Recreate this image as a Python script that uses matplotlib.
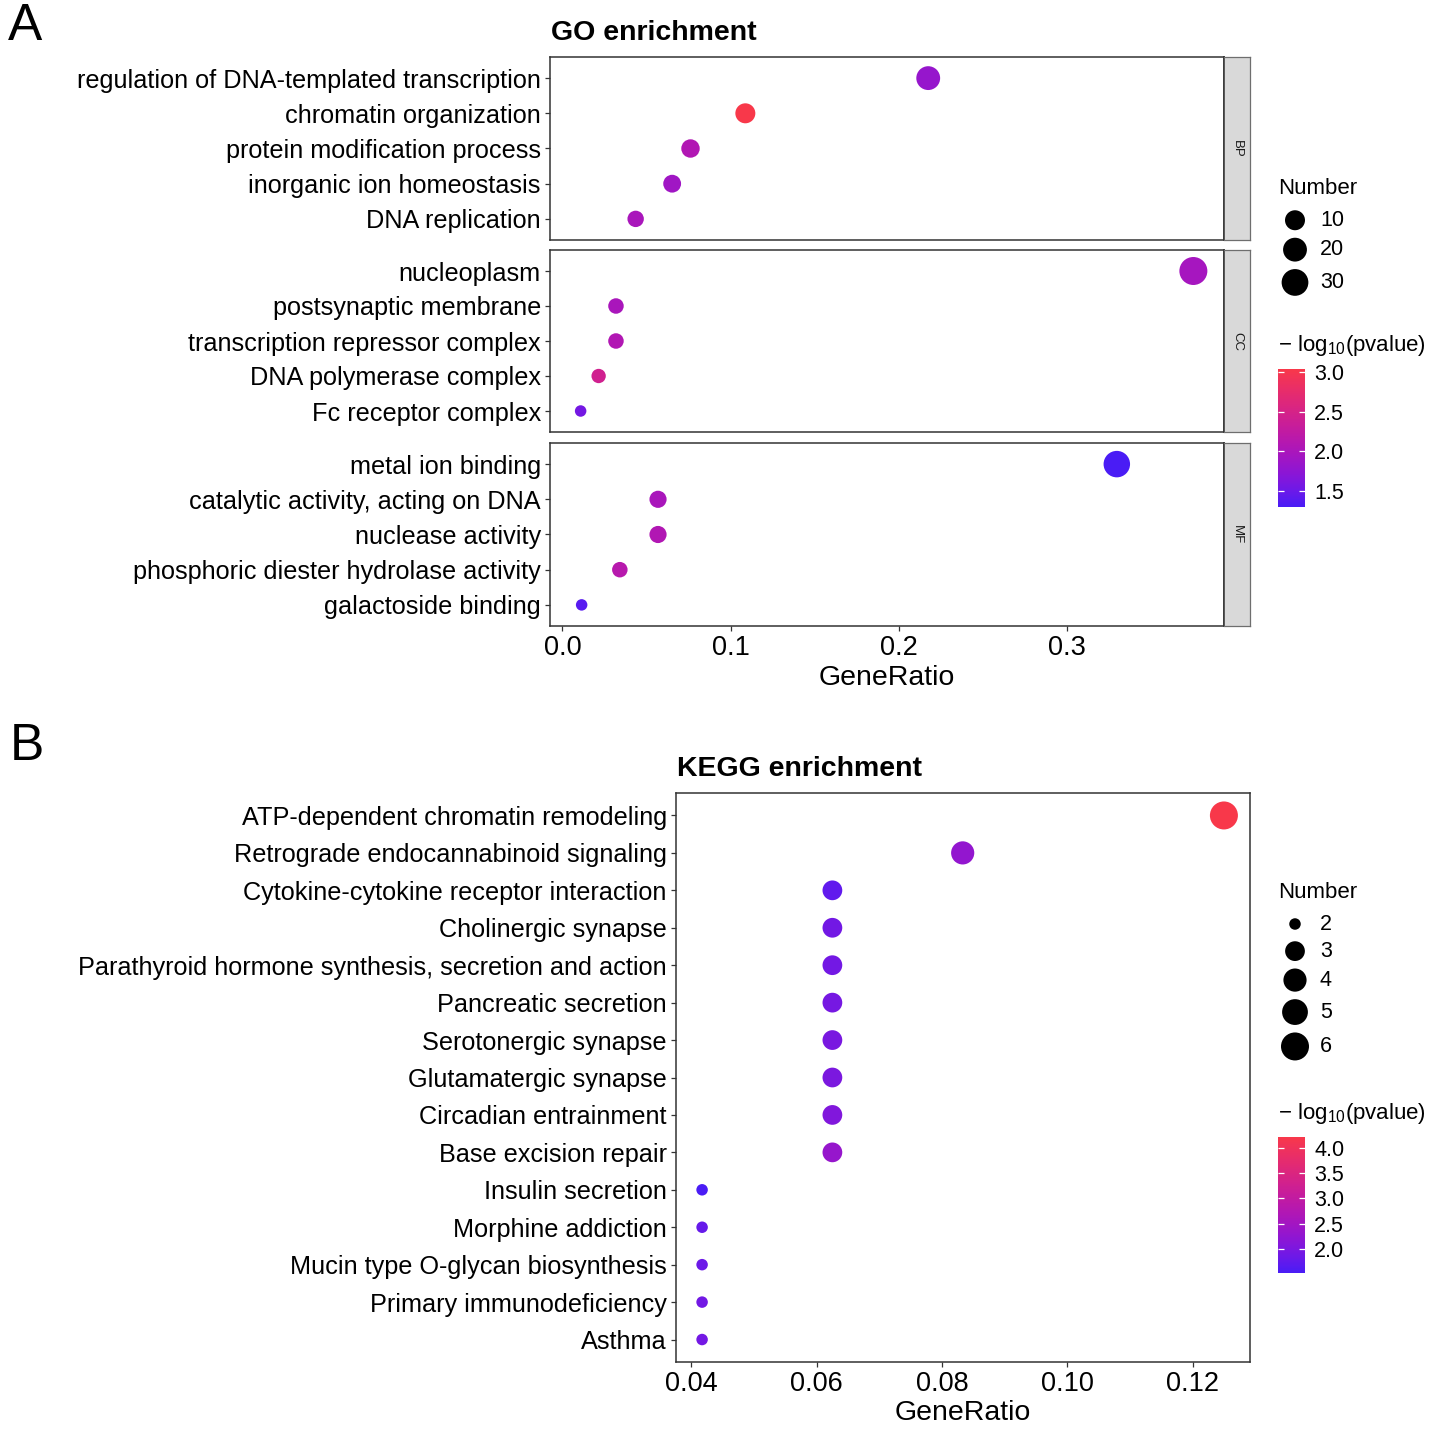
import numpy as np
import matplotlib
matplotlib.use("Agg")
import matplotlib.pyplot as plt
from matplotlib.colors import ListedColormap, Normalize
from matplotlib.cm import ScalarMappable

plt.rcParams["font.family"] = ["Liberation Sans", "DejaVu Sans"]
plt.rcParams["mathtext.default"] = "regular"

# ----------------------------
# Data
# ----------------------------
go_terms = [
    "regulation of DNA-templated transcription", "chromatin organization",
    "protein modification process", "inorganic ion homeostasis", "DNA replication",
    "nucleoplasm", "postsynaptic membrane", "transcription repressor complex",
    "DNA polymerase complex", "Fc receptor complex",
    "metal ion binding", "catalytic activity, acting on DNA", "nuclease activity",
    "phosphoric diester hydrolase activity", "galactoside binding",
]
go_ont = ["BP"] * 5 + ["CC"] * 5 + ["MF"] * 5
go_ratio = [0.2174, 0.1087, 0.0761, 0.0652, 0.0435,
            0.3750, 0.0318, 0.0318, 0.0215, 0.0108,
            0.3295, 0.0568, 0.0568, 0.0341, 0.0114]
go_count = [20, 10, 7, 6, 4,
            35, 3, 3, 2, 1,
            29, 5, 5, 3, 1]
go_logp = [1.82, 3.04, 2.08, 1.91, 2.00,
           1.96, 2.00, 2.08, 2.43, 1.56,
           1.30, 2.00, 2.08, 2.14, 1.39]

kegg_terms = [
    "ATP-dependent chromatin remodeling", "Retrograde endocannabinoid signaling",
    "Cytokine-cytokine receptor interaction", "Cholinergic synapse",
    "Parathyroid hormone synthesis, secretion and action", "Pancreatic secretion",
    "Serotonergic synapse", "Glutamatergic synapse", "Circadian entrainment",
    "Base excision repair", "Insulin secretion", "Morphine addiction",
    "Mucin type O-glycan biosynthesis", "Primary immunodeficiency", "Asthma",
]
kegg_ratio = [0.1250, 0.0833] + [0.0625] * 8 + [0.0417] * 5
kegg_count = [6, 4] + [3] * 8 + [2] * 5
kegg_logp = [4.22, 2.28, 1.74, 1.90, 1.92, 1.95, 1.98, 2.00, 2.06, 2.33,
             1.52, 1.79, 1.84, 1.90, 1.92]

go_size_breaks = [10, 20, 30]
kegg_size_breaks = [2, 3, 4, 5, 6]
go_color_ticks = [1.5, 2.0, 2.5, 3.0]
kegg_color_ticks = [2.0, 2.5, 3.0, 3.5, 4.0]

# ----------------------------
# Helpers
# ----------------------------
W, H = 1430, 1431
LOW, HIGH = "#4A1CF5", "#F8384A"
BORDER = "#333333"

M = np.array([[0.4124564, 0.3575761, 0.1804375],
              [0.2126729, 0.7151522, 0.0721750],
              [0.0193339, 0.1191920, 0.9503041]])
WHITE = np.array([0.95047, 1.0, 1.08883])


def hex_to_rgb(h):
    return np.array([int(h[i:i + 2], 16) for i in (1, 3, 5)]) / 255.0


def rgb_to_lab(rgb):
    lin = np.where(rgb <= 0.04045, rgb / 12.92, ((rgb + 0.055) / 1.055) ** 2.4)
    xyz = (M @ lin) / WHITE
    f = np.where(xyz > 0.008856, np.cbrt(xyz), 7.787 * xyz + 16 / 116)
    return np.array([116 * f[1] - 16, 500 * (f[0] - f[1]), 200 * (f[1] - f[2])])


def lab_to_rgb(lab):
    fy = (lab[:, 0] + 16) / 116
    fx = fy + lab[:, 1] / 500
    fz = fy - lab[:, 2] / 200
    f = np.stack([fx, fy, fz], axis=1)
    xyz = np.where(f ** 3 > 0.008856, f ** 3, (f - 16 / 116) / 7.787) * WHITE
    lin = np.clip(xyz @ np.linalg.inv(M).T, 0, 1)
    rgb = np.where(lin <= 0.0031308, 12.92 * lin, 1.055 * lin ** (1 / 2.4) - 0.055)
    return np.clip(rgb, 0, 1)


def lab_cmap(low, high, n=256, gamma=1.2):
    a, b = rgb_to_lab(hex_to_rgb(low)), rgb_to_lab(hex_to_rgb(high))
    t = (np.linspace(0, 1, n) ** gamma)[:, None]
    return ListedColormap(lab_to_rgb(a + (b - a) * t))


CMAP = lab_cmap(LOW, HIGH)


def box(l, t, r, b):
    return [l / W, 1 - b / H, (r - l) / W, (b - t) / H]


def size_fun(counts, dmin=11.5, dmax=28.0):
    lo, hi = min(counts), max(counts)

    def f(n):
        n = np.asarray(n, dtype=float)
        return dmin + (dmax - dmin) * np.sqrt((n - lo) / (hi - lo))
    return f


def s_pts(d_px):
    return (np.asarray(d_px) * 0.72) ** 2


def expand(vals, frac=0.05):
    lo, hi = min(vals), max(vals)
    pad = frac * (hi - lo)
    return lo - pad, hi + pad


def style_axes(ax):
    for sp in ax.spines.values():
        sp.set_color(BORDER)
        sp.set_linewidth(1.1)
    ax.tick_params(axis="both", length=3.6, width=0.9, color=BORDER, pad=3)
    ax.tick_params(axis="y", labelsize=18.2)
    ax.tick_params(axis="x", labelsize=19.5)


fig = plt.figure(figsize=(W / 100, H / 100), dpi=100)
over = fig.add_axes([0, 0, 1, 1], zorder=5)
over.set_xlim(0, W)
over.set_ylim(H, 0)
over.axis("off")


def size_legend(x0, y_title, breaks, dfun):
    over.text(x0, y_title, "Number", fontsize=16, va="center", ha="left")
    ds = dfun(breaks)
    hs = np.maximum(27, ds + 7.5)
    y = y_title + 18.5 + hs[0] / 2
    for i, (b, d) in enumerate(zip(breaks, ds)):
        if i > 0:
            y += (hs[i - 1] + hs[i]) / 2
        over.scatter([x0 + 17], [y], s=s_pts(d), color="black", edgecolors="none")
        over.text(x0 + 42, y, str(b), fontsize=15.5, va="center", ha="left")


def color_legend(x0, top, bottom, norm, ticks):
    over.text(x0, top - 23, r"$-$ log$_{10}$(pvalue)", fontsize=16, va="center", ha="left")
    cax = fig.add_axes(box(x0, top, x0 + 27, bottom))
    cb = fig.colorbar(ScalarMappable(norm=norm, cmap=CMAP), cax=cax, ticks=ticks)
    cb.outline.set_visible(False)
    cax.tick_params(direction="in", length=4.5, width=0.9, color="white",
                    left=True, right=True, labelleft=False, labelright=True,
                    labelsize=15.5, pad=6.5)
    cax.set_yticklabels([f"{t:.1f}" for t in ticks])


# ----------------------------
# Panel A: GO enrichment
# ----------------------------
go_norm = Normalize(min(go_logp), max(go_logp))
go_size = size_fun(go_count)
go_xlim = expand(go_ratio)
ont_rows = {"BP": (57, 240), "CC": (250, 432), "MF": (443, 626)}

for ont, (top, bot) in ont_rows.items():
    idx = [i for i, o in enumerate(go_ont) if o == ont]
    terms = [go_terms[i] for i in idx]
    xs = [go_ratio[i] for i in idx]
    cs = [go_logp[i] for i in idx]
    ns = [go_count[i] for i in idx]
    ys = np.arange(len(idx))

    ax = fig.add_axes(box(550, top, 1224, bot))
    ax.scatter(xs, ys, s=s_pts(go_size(ns)), c=cs, cmap=CMAP, norm=go_norm,
               edgecolors="none", zorder=3)
    ax.set_ylim(len(idx) - 1 + 0.6, -0.6)
    ax.set_yticks(ys, terms)
    ax.set_xlim(*go_xlim)
    ax.set_xticks([0.0, 0.1, 0.2, 0.3], ["0.0", "0.1", "0.2", "0.3"])
    style_axes(ax)
    if ont != "MF":
        ax.tick_params(axis="x", bottom=False, labelbottom=False)

    sax = fig.add_axes(box(1224, top, 1250, bot))
    sax.set_facecolor("#D9D9D9")
    sax.set_xticks([])
    sax.set_yticks([])
    for sp in sax.spines.values():
        sp.set_color("#6E6E6E")
        sp.set_linewidth(0.9)
    sax.spines["left"].set_color(BORDER)
    sax.spines["left"].set_linewidth(1.1)
    sax.text(0.5, 0.5, ont, rotation=-90, ha="center", va="center",
             fontsize=9.5, color="#1A1A1A", transform=sax.transAxes)

over.text(8, 27, "A", fontsize=37, ha="left", va="center")
over.text(551, 33, "GO enrichment", fontsize=20.5, weight="bold", ha="left", va="center")
over.text(887, 678, "GeneRatio", fontsize=20.5, ha="center", va="center")

size_legend(1278, 188, go_size_breaks, go_size)
color_legend(1278, 369, 507, go_norm, go_color_ticks)

# ----------------------------
# Panel B: KEGG enrichment
# ----------------------------
kegg_norm = Normalize(min(kegg_logp), max(kegg_logp))
kegg_size = size_fun(kegg_count)
ys = np.arange(len(kegg_terms))

axb = fig.add_axes(box(676, 793, 1250, 1362))
axb.scatter(kegg_ratio, ys, s=s_pts(kegg_size(kegg_count)), c=kegg_logp,
            cmap=CMAP, norm=kegg_norm, edgecolors="none", zorder=3)
axb.set_ylim(len(kegg_terms) - 1 + 0.6, -0.6)
axb.set_yticks(ys, kegg_terms)
axb.set_xlim(*expand(kegg_ratio))
kt = [0.04, 0.06, 0.08, 0.10, 0.12]
axb.set_xticks(kt, [f"{t:.2f}" for t in kt])
style_axes(axb)

over.text(10, 747, "B", fontsize=37, ha="left", va="center")
over.text(677, 769, "KEGG enrichment", fontsize=20.5, weight="bold", ha="left", va="center")
over.text(963, 1413, "GeneRatio", fontsize=20.5, ha="center", va="center")

size_legend(1278, 892, kegg_size_breaks, kegg_size)
color_legend(1278, 1137, 1273, kegg_norm, kegg_color_ticks)

fig.savefig("out.png", dpi=100)
